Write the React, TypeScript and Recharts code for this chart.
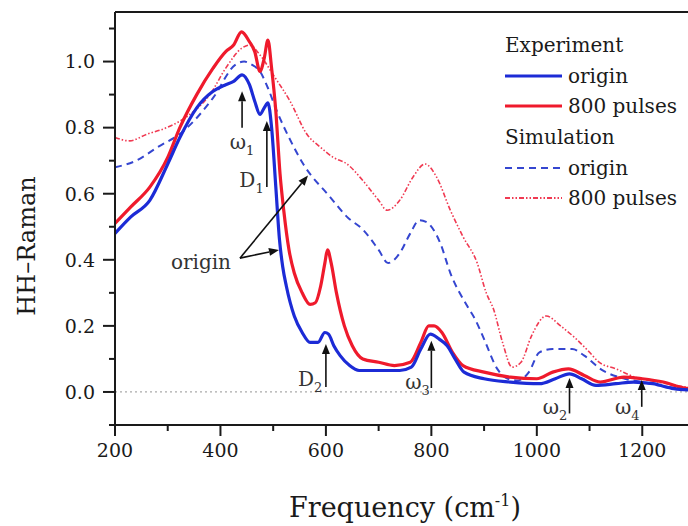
import React from "react";
import { LineChart, Line, XAxis, YAxis, ReferenceLine, ReferenceDot, Legend } from "recharts";

// [frequency (cm-1), HH-Raman]
const expOrigin: [number, number][] = [
  [200, 0.48], [230, 0.53], [266, 0.58], [300, 0.69], [323, 0.77], [355, 0.86], [386, 0.91],
  [410, 0.93], [425, 0.94], [441, 0.96], [455, 0.93], [465, 0.88], [475, 0.84], [483, 0.86],
  [490, 0.875], [497, 0.8], [505, 0.62], [512, 0.46], [518, 0.38], [525, 0.32], [540, 0.23],
  [555, 0.18], [570, 0.15], [585, 0.15], [598, 0.18], [605, 0.175], [615, 0.14], [627, 0.11],
  [645, 0.08], [663, 0.065], [700, 0.065], [740, 0.065], [762, 0.075], [780, 0.13], [798, 0.175],
  [815, 0.16], [830, 0.14], [845, 0.1], [862, 0.06], [900, 0.04], [950, 0.03], [1005, 0.025],
  [1035, 0.04], [1062, 0.055], [1085, 0.04], [1112, 0.02], [1150, 0.025], [1183, 0.03],
  [1220, 0.025], [1260, 0.01], [1300, 0.005],
];

const expPulses: [number, number][] = [
  [200, 0.51], [230, 0.56], [266, 0.62], [300, 0.71], [323, 0.8], [355, 0.9], [386, 0.98],
  [410, 1.03], [425, 1.05], [440, 1.09], [455, 1.06], [465, 1.03], [475, 0.97], [483, 1.01],
  [490, 1.065], [497, 0.98], [505, 0.85], [513, 0.66], [520, 0.55], [530, 0.43], [540, 0.36],
  [555, 0.3], [570, 0.265], [580, 0.27], [590, 0.32], [598, 0.39], [603, 0.43], [610, 0.39],
  [620, 0.3], [635, 0.2], [650, 0.14], [670, 0.1], [700, 0.09], [730, 0.08], [760, 0.09],
  [780, 0.15], [795, 0.2], [805, 0.2], [820, 0.18], [840, 0.12], [860, 0.08], [900, 0.06],
  [950, 0.045], [1000, 0.04], [1030, 0.06], [1060, 0.07], [1090, 0.05], [1120, 0.03],
  [1165, 0.045], [1200, 0.04], [1240, 0.03], [1280, 0.012], [1300, 0.01],
];

const simOrigin: [number, number][] = [
  [200, 0.68], [240, 0.7], [280, 0.74], [330, 0.79], [386, 0.89], [428, 0.99], [445, 1.0],
  [460, 0.99], [475, 0.97], [490, 0.92], [507, 0.85], [530, 0.77], [557, 0.69], [608, 0.59],
  [640, 0.53], [671, 0.49], [700, 0.43], [718, 0.39], [740, 0.42], [760, 0.48], [777, 0.52],
  [790, 0.515], [817, 0.45], [836, 0.36], [868, 0.26], [883, 0.22], [900, 0.16], [925, 0.07],
  [945, 0.04], [965, 0.035], [985, 0.06], [1005, 0.12], [1030, 0.13], [1067, 0.13],
  [1090, 0.11], [1124, 0.066], [1167, 0.04], [1200, 0.03], [1250, 0.015], [1300, 0.01],
];

const simPulses: [number, number][] = [
  [200, 0.77], [228, 0.76], [260, 0.78], [298, 0.8], [342, 0.84], [380, 0.9], [410, 0.98],
  [440, 1.04], [455, 1.05], [475, 1.02], [500, 0.96], [532, 0.88], [564, 0.78], [590, 0.74],
  [614, 0.71], [640, 0.69], [670, 0.64], [700, 0.58], [716, 0.55], [740, 0.58], [765, 0.65],
  [788, 0.69], [810, 0.65], [836, 0.55], [860, 0.47], [887, 0.39], [904, 0.3], [918, 0.25],
  [935, 0.15], [953, 0.075], [970, 0.09], [990, 0.17], [1018, 0.23], [1045, 0.2], [1075, 0.16],
  [1100, 0.12], [1118, 0.09], [1150, 0.07], [1186, 0.045], [1230, 0.03], [1300, 0.01],
];

const xTicks = [200, 300, 400, 500, 600, 700, 800, 900, 1000, 1100, 1200, 1300];
const yTicks = [-0.1, 0, 0.1, 0.2, 0.3, 0.4, 0.5, 0.6, 0.7, 0.8, 0.9, 1.0, 1.1];

// arrows: [fromX, fromY, toX, toY]
const arrows: [number, number, number, number][] = [
  [441, 0.8, 441, 0.91],
  [488, 0.62, 488, 0.82],
  [437, 0.405, 566, 0.655],
  [437, 0.405, 511, 0.43],
  [600, 0.015, 600, 0.145],
  [800, 0.012, 800, 0.155],
  [1062, -0.065, 1062, 0.042],
  [1199, -0.045, 1199, 0.036],
];

// labels: [x, y, main, sub, anchor]
const notes: [number, number, string, string, string][] = [
  [441, 0.755, "ω", "1", "middle"],
  [482, 0.64, "D", "1", "end"],
  [420, 0.39, "origin", "", "end"],
  [593, 0.035, "D", "2", "end"],
  [797, 0.027, "ω", "3", "end"],
  [1058, -0.05, "ω", "2", "end"],
  [1195, -0.05, "ω", "4", "end"],
];

const BLUE = "#1c2bd6";
const RED = "#ef1a2c";
const SIM_BLUE = "#3546d0";
const SIM_RED = "#f03a52";
const INK = "#1a1a1a";
const FONT = "'DejaVu Serif', 'Liberation Serif', serif";

const toRows = (pts: [number, number][]) => pts.map(([f, v]) => ({ f, v }));

const XTick = (p: any) => {
  const { x, y, payload } = p;
  const major = payload.value % 200 === 0;
  return (
    <g>
      <line x1={x} y1={y} x2={x} y2={y + (major ? 11 : 6)} stroke={INK} strokeWidth={2} />
      {major && (
        <text x={x} y={y + 32} textAnchor="middle" fontSize={19} fill={INK} fontFamily={FONT}>
          {payload.value}
        </text>
      )}
    </g>
  );
};

const YTick = (p: any) => {
  const { x, y, payload } = p;
  const k = Math.round(payload.value * 10);
  const major = k % 2 === 0;
  return (
    <g>
      <line x1={x - (major ? 12 : 6)} y1={y} x2={x} y2={y} stroke={INK} strokeWidth={2} />
      {major && (
        <text x={x - 20} y={y} dy="0.36em" textAnchor="end" fontSize={19} fill={INK} fontFamily={FONT}>
          {(k / 10).toFixed(1)}
        </text>
      )}
    </g>
  );
};

const ArrowShape = (p: any) => {
  const { x1, y1, x2, y2 } = p;
  const a = Math.atan2(y2 - y1, x2 - x1);
  const len = 10;
  const w = 4;
  const bx = x2 - len * Math.cos(a);
  const by = y2 - len * Math.sin(a);
  const nx = -Math.sin(a) * w;
  const ny = Math.cos(a) * w;
  return (
    <g>
      <line x1={x1} y1={y1} x2={bx} y2={by} stroke="#111" strokeWidth={1.6} />
      <polygon points={`${x2},${y2} ${bx + nx},${by + ny} ${bx - nx},${by - ny}`} fill="#111" />
    </g>
  );
};

const noteShape = (main: string, sub: string, anchor: string) => (p: any) => (
  <text x={p.cx} y={p.cy} dy="0.3em" textAnchor={anchor} fontSize={20} fill="#333" fontFamily={FONT}>
    {main}
    {sub && (
      <tspan dy={6} fontSize={13}>
        {sub}
      </tspan>
    )}
  </text>
);

const legendRows = [
  { text: "Experiment" },
  { text: "origin", color: BLUE, dash: undefined, width: 3 },
  { text: "800 pulses", color: RED, dash: undefined, width: 3 },
  { text: "Simulation" },
  { text: "origin", color: SIM_BLUE, dash: "7 5", width: 2.2 },
  { text: "800 pulses", color: SIM_RED, dash: "5 2 1.5 2 1.5 2", width: 1.8 },
];

const renderLegend = () => (
  <div style={{ fontFamily: FONT, fontSize: 20, color: INK }}>
    {legendRows.map((r, i) => (
      <div key={i} style={{ display: "flex", alignItems: "center", height: 30.6 }}>
        {r.color && (
          <svg width={57} height={10} style={{ marginRight: 6 }}>
            <line x1={0} y1={5} x2={57} y2={5} stroke={r.color} strokeWidth={r.width} strokeDasharray={r.dash} />
          </svg>
        )}
        <span>{r.text}</span>
      </div>
    ))}
  </div>
);

export default function App() {
  return (
    <div
      style={{
        position: "absolute",
        left: 0,
        top: 0,
        width: 688,
        height: 526,
        overflow: "hidden",
        background: "#fff",
      }}
    >
      <LineChart width={695} height={526} margin={{ top: 12, right: 0, bottom: 0, left: 0 }}>
        <XAxis
          type="number"
          dataKey="f"
          domain={[200, 1300]}
          ticks={xTicks}
          interval={0}
          height={101}
          tickSize={0}
          tickMargin={0}
          tickLine={false}
          tick={<XTick />}
          axisLine={{ stroke: INK, strokeWidth: 2 }}
          label={{
            content: (p: any) => {
              const vb = p.viewBox;
              return (
                <text
                  x={405}
                  y={vb.y + 92}
                  textAnchor="middle"
                  fontSize={27}
                  fill={INK}
                  fontFamily={FONT}
                >
                  Frequency (cm
                  <tspan dy={-11} fontSize={16}>-1</tspan>
                  <tspan dy={11}>)</tspan>
                </text>
              );
            },
          }}
        />
        <YAxis
          type="number"
          dataKey="v"
          domain={[-0.1, 1.15]}
          ticks={yTicks}
          interval={0}
          width={115}
          tickSize={0}
          tickMargin={0}
          tickLine={false}
          tick={<YTick />}
          axisLine={{ stroke: INK, strokeWidth: 2 }}
          label={{
            content: () => {
              const cy = 246;
              return (
                <text
                  x={27}
                  y={cy}
                  dy="0.35em"
                  textAnchor="middle"
                  fontSize={24}
                  fill={INK}
                  fontFamily={FONT}
                  transform={`rotate(-90, 27, ${cy})`}
                >
                  HH–Raman
                </text>
              );
            },
          }}
        />
        <ReferenceLine y={1.15} stroke={INK} strokeWidth={2} />
        <ReferenceLine y={0} stroke="#aaa" strokeWidth={1.2} strokeDasharray="2 3" />
        <Legend
          layout="horizontal"
          verticalAlign="middle"
          align="center"
          content={renderLegend}
          wrapperStyle={{ position: "absolute", left: 505, top: 30, width: 180, height: 190 }}
        />
        <Line
          data={toRows(simPulses)}
          dataKey="v"
          type="monotone"
          stroke={SIM_RED}
          strokeWidth={1.6}
          strokeDasharray="5 2 1.5 2 1.5 2"
          dot={false}
          isAnimationActive={false}
          legendType="none"
        />
        <Line
          data={toRows(simOrigin)}
          dataKey="v"
          type="monotone"
          stroke={SIM_BLUE}
          strokeWidth={2}
          strokeDasharray="7 5"
          dot={false}
          isAnimationActive={false}
          legendType="none"
        />
        <Line
          data={toRows(expPulses)}
          dataKey="v"
          type="monotone"
          stroke={RED}
          strokeWidth={3.2}
          dot={false}
          isAnimationActive={false}
          legendType="none"
        />
        <Line
          data={toRows(expOrigin)}
          dataKey="v"
          type="monotone"
          stroke={BLUE}
          strokeWidth={3.2}
          dot={false}
          isAnimationActive={false}
          legendType="none"
        />
        {arrows.map(([fx, fy, tx, ty], i) => (
          <ReferenceLine
            key={`a${i}`}
            segment={[
              { x: fx, y: fy },
              { x: tx, y: ty },
            ]}
            shape={ArrowShape}
            ifOverflow="visible"
          />
        ))}
        {notes.map(([x, y, main, sub, anchor], i) => (
          <ReferenceDot
            key={`n${i}`}
            x={x}
            y={y}
            r={0}
            ifOverflow="visible"
            shape={noteShape(main, sub, anchor)}
          />
        ))}
      </LineChart>
    </div>
  );
}
